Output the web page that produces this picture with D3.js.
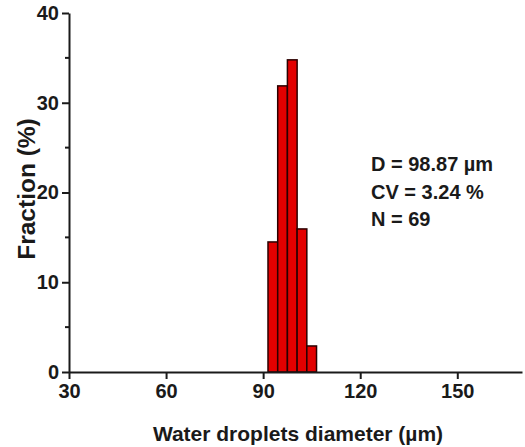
<!DOCTYPE html>
<html>
<head>
<meta charset="utf-8">
<script src="https://cdn.jsdelivr.net/npm/d3@7"></script>
<style>
  html, body { margin: 0; padding: 0; background: #fff; }
  svg { display: block; }
  text { font-family: "Liberation Sans", Arial, sans-serif; font-weight: bold; fill: #1a1a1a; }
</style>
</head>
<body>
<svg id="chart" width="525" height="447"></svg>
<script>
// Histogram bins (µm): start and end, fraction (%)
const binStarts = [91.5, 94.5, 97.5, 100.5, 103.5];
const binEnds   = [94.5, 97.5, 100.5, 103.5, 106.5];
const fractions = [14.49, 31.88, 34.78, 15.94, 2.90];
const xTicks = [30, 60, 90, 120, 150];
const yTicks = [0, 10, 20, 30, 40];
const yMinorTicks = [5, 15, 25, 35];
const annotations = ["D = 98.87 \u00b5m", "CV = 3.24 %", "N = 69"];
const xTitle = "Water droplets diameter (\u00b5m)";
const yTitle = "Fraction (%)";

const svg = d3.select("#chart");
const x = d3.scaleLinear().domain([30, 170]).range([69, 522]);
const y = d3.scaleLinear().domain([0, 40]).range([372, 13]);

// bars
svg.append("g").selectAll("rect")
  .data(fractions)
  .join("rect")
  .attr("x", (d, i) => x(binStarts[i]))
  .attr("width", (d, i) => x(binEnds[i]) - x(binStarts[i]))
  .attr("y", d => y(d))
  .attr("height", d => y(0) - y(d))
  .attr("fill", "#e30000")
  .attr("stroke", "#2a0000")
  .attr("stroke-width", 1.5);

const font = "Liberation Sans, Arial, sans-serif";

// x axis
const xAxis = svg.append("g")
  .attr("transform", `translate(0,${y(0)})`)
  .call(d3.axisBottom(x).tickValues(xTicks).tickSize(7).tickPadding(5).tickSizeOuter(0));
xAxis.select(".domain").attr("stroke", "#1a1a1a").attr("stroke-width", 2);
xAxis.selectAll(".tick line").attr("stroke", "#1a1a1a").attr("stroke-width", 2);
xAxis.selectAll(".tick text").attr("font-size", 20).attr("font-family", font).attr("font-weight", "bold").attr("fill", "#1a1a1a");

// y axis
const yAxis = svg.append("g")
  .attr("transform", `translate(${x(30)},0)`)
  .call(d3.axisLeft(y).tickValues(yTicks).tickSize(7).tickPadding(3).tickSizeOuter(0));
yAxis.select(".domain").attr("stroke", "#1a1a1a").attr("stroke-width", 2);
yAxis.selectAll(".tick line").attr("stroke", "#1a1a1a").attr("stroke-width", 2);
yAxis.selectAll(".tick text").attr("font-size", 20).attr("font-family", font).attr("font-weight", "bold").attr("fill", "#1a1a1a");

// y minor ticks
svg.append("g").selectAll("line")
  .data(yMinorTicks)
  .join("line")
  .attr("x1", x(30) - 4).attr("x2", x(30))
  .attr("y1", d => y(d)).attr("y2", d => y(d))
  .attr("stroke", "#1a1a1a").attr("stroke-width", 2);

// annotations
svg.append("g").selectAll("text")
  .data(annotations)
  .join("text")
  .attr("x", 371)
  .attr("y", (d, i) => 171 + i * 27.5)
  .attr("font-size", 20)
  .text(d => d);

// axis titles
svg.append("text")
  .attr("x", 298).attr("y", 441)
  .attr("text-anchor", "middle")
  .attr("font-size", 21)
  .text(xTitle);

svg.append("text")
  .attr("transform", "translate(35,189) rotate(-90)")
  .attr("text-anchor", "middle")
  .attr("font-size", 24.5)
  .text(yTitle);
</script>
</body>
</html>
